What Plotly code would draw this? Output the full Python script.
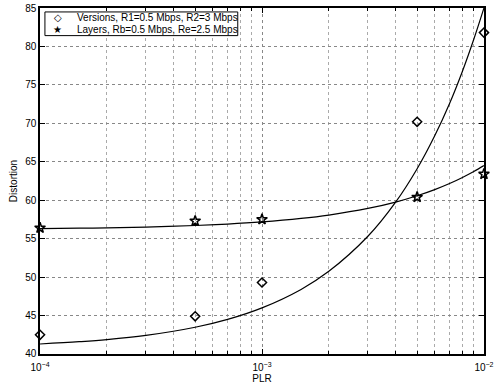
import plotly.graph_objects as go

# Measured points
plr_pts = [1e-4, 5e-4, 1e-3, 5e-3, 1e-2]
versions_pts = [42.5, 44.9, 49.3, 70.2, 81.8]
layers_pts = [56.4, 57.3, 57.5, 60.4, 63.4]

# Fitted curves
plr_curve = [1e-4, 1.5e-4, 2e-4, 3e-4, 5e-4, 7e-4, 1e-3, 1.5e-3, 2e-3, 3e-3,
             4e-3, 5e-3, 6e-3, 7e-3, 8e-3, 9e-3, 1e-2]
versions_curve = [41.30, 41.60, 41.87, 42.42, 43.48, 44.50, 46.00, 48.40, 50.75,
                  55.31, 59.75, 64.10, 68.38, 72.58, 76.78, 80.93, 85.00]
layers_curve = [56.30, 56.36, 56.41, 56.51, 56.71, 56.90, 57.18, 57.63, 58.07,
                58.93, 59.76, 60.58, 61.38, 62.17, 62.96, 63.73, 64.50]

series_names = ["Versions, R1=0.5 Mbps, R2=3 Mbps", "Layers, Rb=0.5 Mbps, Re=2.5 Mbps"]
legend_glyphs = ["◇", "★"]

x_tickvals = [1e-4, 1e-3, 1e-2]
x_ticktext = ["10<sup>−4</sup>", "10<sup>−3</sup>", "10<sup>−2</sup>"]
y_tickvals = [40, 45, 50, 55, 60, 65, 70, 75, 80, 85]

FONT = "Liberation Sans, Arial, Helvetica, sans-serif"

fig = go.Figure()
fig.add_trace(go.Scatter(x=plr_curve, y=versions_curve, mode="lines",
                         line=dict(color="black", width=1.2, shape="spline"),
                         showlegend=False, hoverinfo="skip", cliponaxis=True))
fig.add_trace(go.Scatter(x=plr_curve, y=layers_curve, mode="lines",
                         line=dict(color="black", width=1.2, shape="spline"),
                         showlegend=False, hoverinfo="skip", cliponaxis=True))
fig.add_trace(go.Scatter(x=plr_pts, y=versions_pts, mode="markers",
                         name=series_names[0], showlegend=False,
                         marker=dict(symbol="diamond-open", size=7, color="black",
                                     line=dict(width=1.5, color="black")),
                         cliponaxis=False))
fig.add_trace(go.Scatter(x=plr_pts, y=layers_pts, mode="markers",
                         name=series_names[1], showlegend=False,
                         marker=dict(symbol="star-open", size=8, color="black",
                                     line=dict(width=1.5, color="black")),
                         cliponaxis=False))

# Legend box (MATLAB style)
fig.add_shape(type="rect", xref="paper", yref="paper",
              x0=0.0111, x1=0.4454, y0=0.9202, y1=0.9886,
              line=dict(color="black", width=1), fillcolor="white", layer="above")
for i, (g, name) in enumerate(zip(legend_glyphs, series_names)):
    yy = 0.9715 - i * 0.0330
    fig.add_annotation(xref="paper", yref="paper", x=0.040, y=yy, text="<b>" + g + "</b>",
                       showarrow=False, xanchor="center", yanchor="middle",
                       font=dict(family="DejaVu Sans", size=10, color="black"))
    fig.add_annotation(xref="paper", yref="paper", x=0.078, y=yy, text=name,
                       showarrow=False, xanchor="left", yanchor="middle",
                       font=dict(family=FONT, size=10, color="black"))

fig.update_layout(
    width=497, height=392,
    margin=dict(l=40, r=8, t=3, b=38),
    paper_bgcolor="white", plot_bgcolor="white",
    font=dict(family=FONT, size=10, color="black"),
    showlegend=False,
)
fig.update_xaxes(
    type="log", range=[-4.0002, -1.9998],
    tickvals=x_tickvals, ticktext=x_ticktext, ticklabeloverflow="allow",
    showline=True, linecolor="black", linewidth=1.5, mirror="ticks",
    ticks="inside", ticklen=5, tickcolor="black", ticklabelstandoff=3,
    showgrid=True, gridcolor="#888", griddash="dot", gridwidth=1,
    minor=dict(ticks="inside", ticklen=3, tickcolor="black", showgrid=True,
               gridcolor="#aaa", griddash="dot", dtick="D1"),
    title=dict(text="PLR", standoff=2, font=dict(size=10)),
    zeroline=False,
)
fig.update_yaxes(
    range=[39.999, 85.001], tickvals=y_tickvals, ticklabeloverflow="allow",
    showline=True, linecolor="black", linewidth=1.5, mirror="ticks",
    ticks="inside", ticklen=5, tickcolor="black",
    showgrid=True, gridcolor="#888", griddash="dot", gridwidth=1,
    title=dict(text="Distortion", standoff=6, font=dict(size=10)),
    zeroline=False,
)

fig.write_html("out.html")
